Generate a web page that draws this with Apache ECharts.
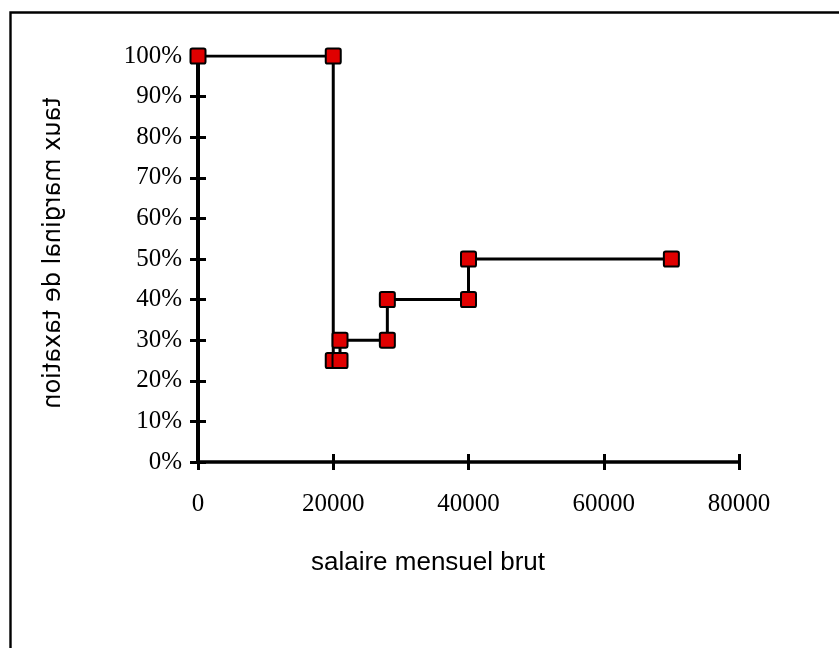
<!DOCTYPE html>
<html>
<head>
<meta charset="utf-8">
<script src="https://cdn.jsdelivr.net/npm/echarts@6/dist/echarts.min.js"></script>
<style>html,body{margin:0;padding:0;background:#fff;}#c{width:839px;height:648px;}</style>
</head>
<body>
<div id="c"></div>
<script>
var salaire = [0, 20000, 20000, 21000, 21000, 28000, 28000, 40000, 40000, 70000];
var taux = [100, 100, 25, 25, 30, 30, 40, 40, 50, 50];
var xTitle = 'salaire mensuel brut';
var yTitle = 'taux marginal de taxation';

var points = salaire.map(function (s, i) { return [s, taux[i]]; });
var chart = echarts.init(document.getElementById('c'), null, { renderer: 'canvas' });
var gridPos = { left: 198, right: 100, top: 56, bottom: 186 };
var lineW = 3.5, tickW = 3;
chart.setOption({
  animation: false,
  backgroundColor: '#fff',
  grid: [
    Object.assign({ containLabel: false }, gridPos),
    Object.assign({ containLabel: false }, gridPos)
  ],
  xAxis: [{
    type: 'value', gridIndex: 0, min: 0, max: 80000, interval: 20000,
    axisLine: { show: true, onZero: false, lineStyle: { color: '#000', width: lineW } },
    axisTick: { show: true, inside: false, length: 8, lineStyle: { color: '#000', width: tickW } },
    axisLabel: { show: true, margin: 30, color: '#000', fontFamily: 'Liberation Serif', fontSize: 25,
      formatter: function (v) { return String(v); } },
    splitLine: { show: false }
  }, {
    type: 'value', gridIndex: 1, min: 0, max: 80000, interval: 20000,
    axisLine: { show: false },
    axisTick: { show: true, inside: true, length: 8, lineStyle: { color: '#000', width: tickW } },
    axisLabel: { show: false },
    splitLine: { show: false }
  }],
  yAxis: [{
    type: 'value', gridIndex: 0, min: 0, max: 100, interval: 10,
    axisLine: { show: true, onZero: false, lineStyle: { color: '#000', width: 4 } },
    axisTick: { show: true, inside: false, length: 8, lineStyle: { color: '#000', width: tickW } },
    axisLabel: { show: true, margin: 16, color: '#000', fontFamily: 'Liberation Serif', fontSize: 25,
      formatter: '{value}%', padding: [0, 0, 6, 0] },
    splitLine: { show: false }
  }, {
    type: 'value', gridIndex: 1, min: 0, max: 100, interval: 10,
    axisLine: { show: false },
    axisTick: { show: true, inside: true, length: 8, lineStyle: { color: '#000', width: tickW } },
    axisLabel: { show: false },
    splitLine: { show: false }
  }],
  series: [{
    type: 'line',
    xAxisIndex: 0, yAxisIndex: 0,
    data: points,
    symbol: 'path://M2,0 H14 Q16,0 16,2 V14 Q16,16 14,16 H2 Q0,16 0,14 V2 Q0,0 2,0 Z',
    symbolSize: 15,
    showAllSymbol: true,
    lineStyle: { color: '#000', width: 3 },
    itemStyle: { color: '#E00000', borderColor: '#000', borderWidth: 2 },
    z: 5
  }],
  graphic: [{
    type: 'rect', silent: true,
    shape: { x: 10.5, y: 12.5, width: 1000, height: 1000 },
    style: { fill: 'none', stroke: '#000', lineWidth: 2.4 }
  }, {
    type: 'text', silent: true,
    x: 428, y: 563,
    style: { text: xTitle, fill: '#000', font: '26px "Liberation Sans"', align: 'center', verticalAlign: 'middle' }
  }, {
    type: 'text', silent: true,
    x: 54, y: 253,
    rotation: -Math.PI / 2,
    scaleY: -1,
    style: { text: yTitle, fill: '#000', font: '24px "DejaVu Sans"', align: 'center', verticalAlign: 'middle' }
  }]
});
</script>
</body>
</html>
